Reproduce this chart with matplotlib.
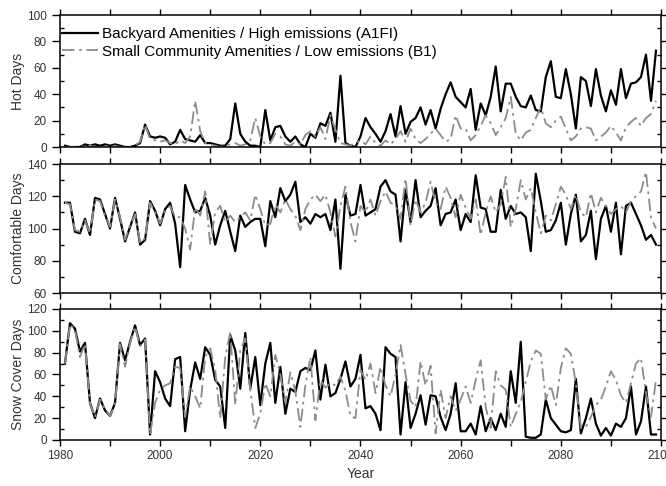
import matplotlib
matplotlib.use("Agg")
import matplotlib.pyplot as plt
from matplotlib.ticker import MultipleLocator
import numpy as np

plt.rcParams['font.family'] = ['Liberation Sans', 'DejaVu Sans']

# years of the simulation
years = np.arange(1981, 2100)

# Hot days
hot_a1fi = [1, 0, 0, 0, 2, 1, 2, 1, 2, 1,
            2, 1, 0, 0, 1, 3, 17, 8, 7, 8,
            7, 2, 4, 13, 6, 5, 4, 9, 3, 3,
            2, 1, 1, 6, 33, 10, 4, 1, 1, 0,
            28, 5, 15, 16, 8, 4, 8, 2, 0, 10,
            7, 18, 16, 26, 4, 54, 3, 1, 0, 8,
            22, 15, 10, 4, 12, 25, 8, 31, 10, 19,
            22, 30, 17, 28, 14, 29, 40, 49, 38, 34,
            30, 44, 13, 33, 24, 38, 61, 27, 48, 48,
            38, 31, 30, 39, 28, 27, 53, 65, 38, 37,
            59, 40, 14, 53, 50, 31, 59, 39, 27, 43,
            32, 59, 37, 48, 49, 53, 70, 35, 73]
hot_b1 = [0, 0, 0, 1, 0, 1, 0, 0, 1, 0,
          1, 0, 0, 0, 1, 4, 17, 6, 5, 4,
          5, 3, 2, 5, 3, 8, 35, 12, 3, 2,
          1, 0, 1, 2, 3, 1, 2, 5, 22, 8,
          2, 3, 10, 8, 2, 1, 4, 2, 9, 12,
          8, 15, 6, 24, 13, 3, 2, 1, 3, 5,
          2, 8, 3, 1, 5, 2, 6, 12, 4, 14,
          6, 3, 6, 10, 14, 9, 4, 6, 24, 14,
          14, 5, 9, 16, 24, 18, 9, 15, 22, 38,
          10, 5, 11, 13, 22, 30, 18, 15, 20, 23,
          14, 5, 8, 14, 15, 14, 5, 8, 11, 16,
          11, 5, 15, 19, 22, 16, 22, 25, 35]

# Comfortable days
comf_a1fi = [116, 116, 98, 97, 106, 96, 119, 118, 109, 100,
             119, 106, 92, 101, 110, 90, 93, 117, 111, 102,
             112, 116, 103, 76, 127, 118, 110, 111, 119, 108,
             90, 102, 111, 98, 86, 108, 101, 104, 106, 106,
             89, 117, 107, 125, 117, 121, 129, 104, 107, 103,
             109, 107, 109, 99, 118, 75, 121, 108, 109, 127,
             108, 110, 112, 126, 130, 123, 121, 92, 124, 104,
             130, 107, 111, 114, 125, 102, 109, 110, 118, 99,
             109, 104, 133, 113, 112, 98, 98, 124, 106, 114,
             109, 110, 107, 86, 134, 117, 98, 99, 105, 116,
             90, 109, 121, 92, 96, 111, 81, 106, 114, 98,
             116, 84, 114, 116, 109, 102, 93, 96, 90]
comf_b1 = [116, 115, 99, 98, 105, 97, 118, 117, 108, 101,
           118, 107, 93, 102, 109, 91, 94, 116, 110, 103,
           111, 114, 107, 107, 100, 87, 113, 108, 123, 90,
           110, 114, 104, 108, 104, 107, 110, 105, 121,
           112, 102, 103, 115, 110, 118, 112, 108, 99, 112,
           118, 121, 117, 121, 110, 95, 114, 126, 104, 92,
           114, 110, 118, 108, 117, 123, 116, 114, 106, 131,
           102, 118, 110, 116, 129, 116, 112, 126, 119, 107,
           121, 113, 106, 118, 96, 110, 120, 110, 115, 132,
           101, 112, 130, 118, 125, 110, 97, 108, 105, 115,
           126, 121, 112, 121, 110, 107, 122, 110, 119, 114,
           109, 112, 114, 110, 117, 120, 123, 135, 107, 100]

# Snow cover days
snow_a1fi = [70, 107, 102, 81, 89, 34, 20, 38, 27, 22,
             34, 89, 73, 90, 105, 87, 93, 5, 63, 53,
             38, 31, 74, 76, 8, 46, 71, 56, 85, 78,
             55, 49, 11, 96, 82, 47, 98, 47, 76, 32,
             70, 89, 34, 67, 24, 47, 44, 63, 66, 64,
             82, 37, 69, 40, 43, 56, 72, 49, 56, 78,
             29, 31, 24, 9, 85, 79, 76, 5, 53, 11,
             24, 41, 14, 41, 40, 21, 9, 24, 52, 8,
             8, 15, 5, 31, 8, 20, 9, 24, 12, 63,
             34, 90, 3, 2, 2, 5, 37, 20, 14, 8,
             7, 9, 56, 6, 20, 38, 15, 4, 11, 4,
             15, 12, 20, 49, 5, 17, 49, 5, 5]
snow_b1 = [70, 106, 101, 76, 88, 33, 21, 37, 28, 22,
           33, 88, 67, 89, 104, 86, 92, 5, 34, 46,
           50, 52, 67, 66, 21, 49, 40, 29, 76, 84,
           64, 20, 76, 99, 32, 82, 93, 46, 11, 24,
           52, 40, 78, 60, 34, 62, 45, 12, 50, 76,
           18, 55, 48, 52, 50, 58, 45, 22, 20, 64,
           55, 70, 43, 67, 50, 40, 60, 87, 60, 36,
           30, 72, 50, 68, 6, 46, 20, 40, 27, 37,
           49, 34, 55, 73, 30, 11, 63, 50, 46, 12,
           24, 35, 53, 72, 82, 79, 37, 50, 32, 66,
           84, 79, 52, 11, 12, 21, 32, 37, 49, 63,
           55, 41, 34, 52, 70, 75, 43, 21, 55]

panels = [
    ("Hot Days", hot_a1fi, hot_b1, (0, 100)),
    ("Comfortable Days", comf_a1fi, comf_b1, (60, 140)),
    ("Snow Cover Days", snow_a1fi, snow_b1, (0, 120)),
]
boxes = [[0.090, 0.6975, 0.9025, 0.2716],
         [0.090, 0.3971, 0.9025, 0.2654],
         [0.090, 0.0947, 0.9025, 0.2695]]

fig = plt.figure(figsize=(6.66, 4.86), dpi=100)
txt = '#333333'

for i, (name, a1, b1, lim) in enumerate(panels):
    ax = fig.add_axes(boxes[i])
    ax.plot(years, a1, color='black', lw=1.6,
            label="Backyard Amenities / High emissions (A1FI)")
    ax.plot(years, b1, color='#8c8c8c', lw=1.3, dashes=(7, 2.5, 1.5, 2.5),
            label="Small Community Amenities / Low emissions (B1)")
    ax.set_xlim(1980, 2100)
    ax.set_ylim(*lim)
    ax.xaxis.set_major_locator(MultipleLocator(20))
    ax.xaxis.set_minor_locator(MultipleLocator(10))
    ax.yaxis.set_major_locator(MultipleLocator(20))
    ax.yaxis.set_minor_locator(MultipleLocator(10))
    ax.tick_params(axis='x', which='both', direction='out', top=True,
                   length=4, width=1, labelsize=8.5, labelcolor=txt)
    ax.tick_params(axis='y', which='major', direction='out', right=True,
                   length=6, width=1, labelsize=8.5, labelcolor=txt)
    ax.tick_params(axis='y', which='minor', direction='in', right=True,
                   length=3, width=1)
    for s in ax.spines.values():
        s.set_linewidth(1.1)
    ax.set_ylabel(name, fontsize=10, color=txt)
    ax.yaxis.set_label_coords(-0.058, 0.5)
    if i < 2:
        ax.tick_params(axis='x', labelbottom=False)
    else:
        ax.set_xlabel("Year", fontsize=10, color=txt, labelpad=3)
    if i == 0:
        ax.legend(loc='upper left', bbox_to_anchor=(0.004, 0.91), frameon=False,
                  fontsize=11, handlelength=2.35, handletextpad=0.25,
                  labelspacing=0.25, borderpad=0, borderaxespad=0)

fig.savefig("out.png", dpi=100)
